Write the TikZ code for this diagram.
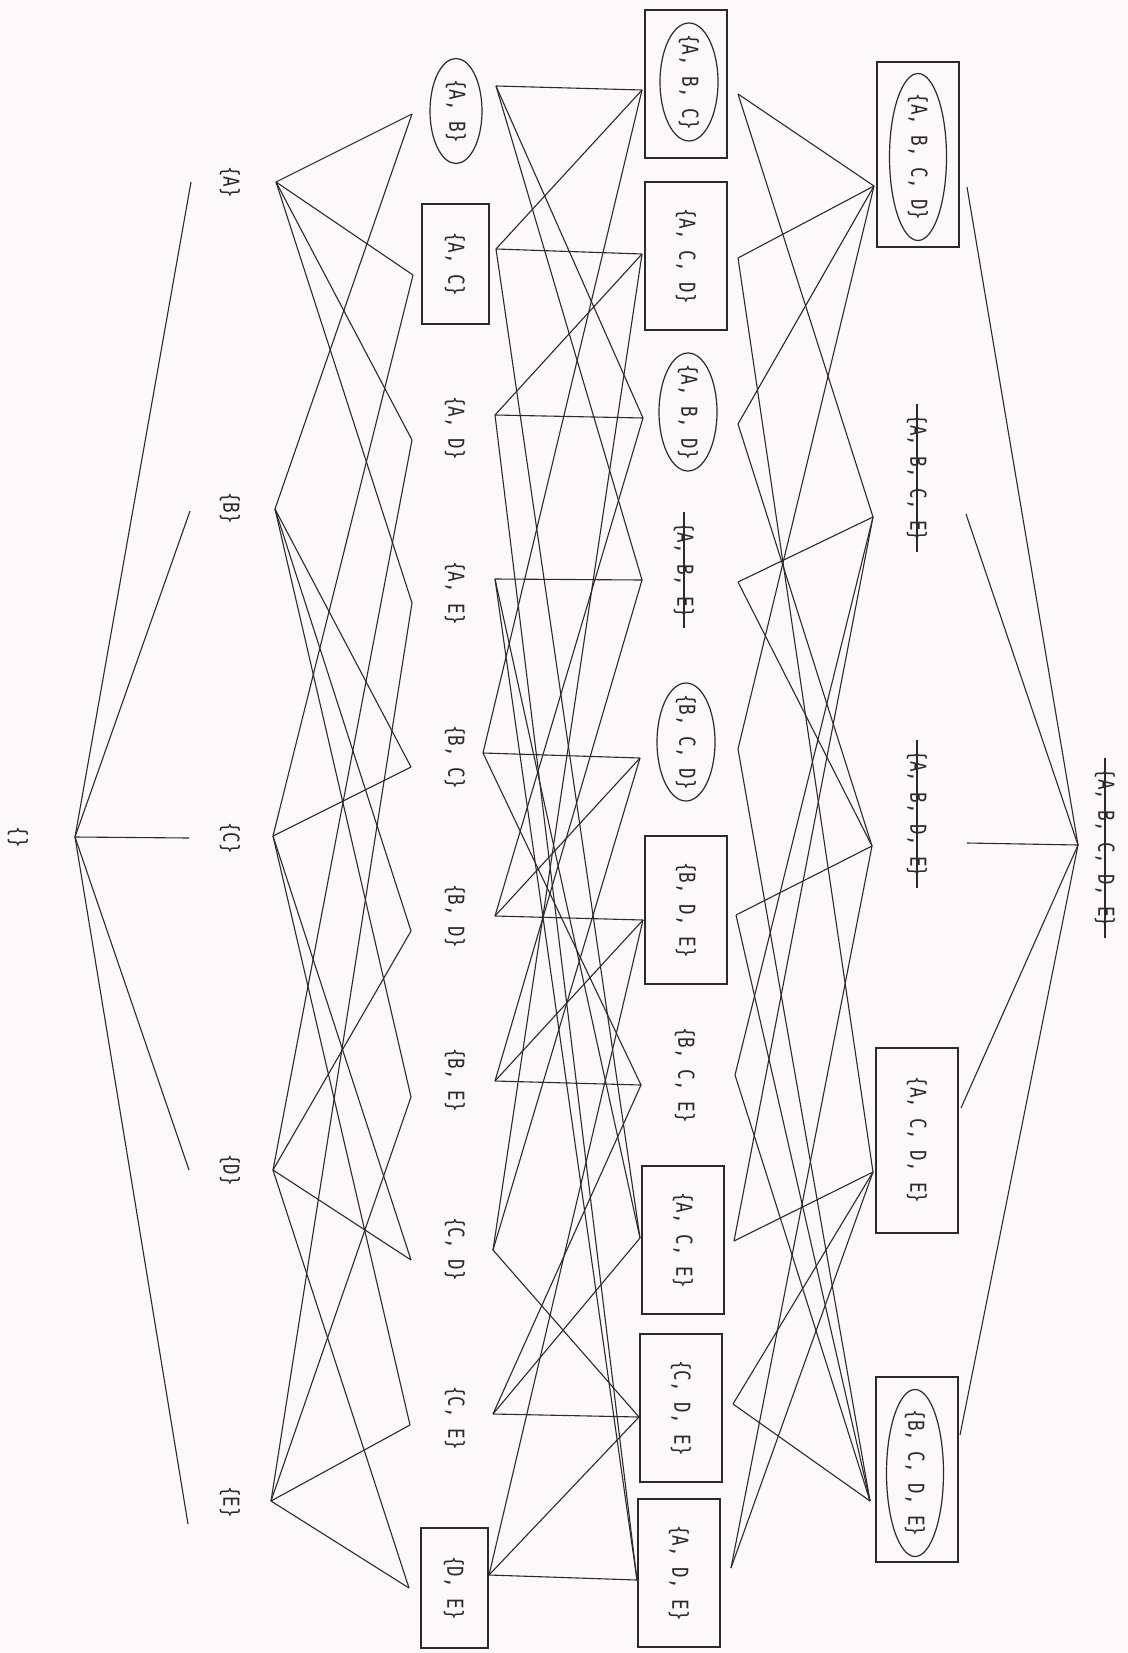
\documentclass[tikz,border=0pt]{standalone}
\usepackage{fontspec}
\newfontfamily\plotfont[FakeStretch=0.8]{DejaVu Sans Mono}
\usepackage{tikz}
\usetikzlibrary{shapes,positioning}

\definecolor{paper}{RGB}{251,249,250}
\definecolor{ink}{RGB}{48,40,44}

\begin{document}
\begin{tikzpicture}[
    x=0.5pt, y=-0.5pt,
    set/.style={rotate=-90, inner sep=0pt, text=ink, font=\plotfont\fontsize{11}{13}\selectfont},
    box2/.style={set, draw=ink, line width=1pt, rectangle, minimum width=60pt, minimum height=33.5pt},
    box3/.style={box2, minimum width=74pt, minimum height=41pt},
    box4/.style={box2, minimum width=92.5pt, minimum height=41pt},
    oval2/.style={set, draw=ink, line width=0.6pt, ellipse, inner xsep=-3pt, minimum width=52.5pt, minimum height=26pt},
    oval3/.style={oval2, minimum width=59pt, minimum height=29pt},
    oval4/.style={oval2, minimum width=83.5pt, minimum height=28.5pt},
    struck/.style={draw=ink, line width=0.6pt, shorten <=-5pt, shorten >=-5pt},
    edge/.style={draw=ink, line width=0.55pt}
]

\fill[paper] (0,0) rectangle (1128,1653);
\useasboundingbox (0,0) rectangle (1128,1653);

% level 0 and 1
\node[set] (e0) at (18,837) {\{\}};
\node[set] (A) at (230,182) {\{A\}};
\node[set] (B) at (230,508) {\{B\}};
\node[set] (C) at (230,838) {\{C\}};
\node[set] (D) at (230,1170) {\{D\}};
\node[set] (E) at (230,1502) {\{E\}};

% level 2
\node[oval2] (AB) at (456,111) {\{A, B\}};
\node[box2] (AC) at (455,264) {\{A, C\}};
\node[set] (AD) at (455,428) {\{A, D\}};
\node[set] (AE) at (455,593) {\{A, E\}};
\node[set] (BC) at (455,757) {\{B, C\}};
\node[set] (BD) at (455,916) {\{B, D\}};
\node[set] (BE) at (455,1080) {\{B, E\}};
\node[set] (CD) at (455,1249) {\{C, D\}};
\node[set] (CE) at (455,1418) {\{C, E\}};
\node[box2] (DE) at (454,1588) {\{D, E\}};

% level 3
\node[box3] (ABC-frame) at (686,84) {};
\node[oval3] (ABC) at (689,82) {\{A, B, C\}};
\node[box3] (ACD) at (686,256) {\{A, C, D\}};
\node[oval3] (ABD) at (688,412) {\{A, B, D\}};
\node[set] (ABE) at (684,570) {\{A, B, E\}};
\node[oval3] (BCD) at (686,742) {\{B, C, D\}};
\node[box3] (BDE) at (686,910) {\{B, D, E\}};
\node[set] (BCE) at (685,1075) {\{B, C, E\}};
\node[box3] (ACE) at (683,1240) {\{A, C, E\}};
\node[box3] (CDE) at (681,1408) {\{C, D, E\}};
\node[box3] (ADE) at (679,1573) {\{A, D, E\}};

% level 4 and 5
\node[box4] (ABCD-frame) at (918,155) {};
\node[oval4] (ABCD) at (918,157) {\{A, B, C, D\}};
\node[set] (ABCE) at (917,478) {\{A, B, C, E\}};
\node[set] (ABDE) at (917,814) {\{A, B, D, E\}};
\node[box4] (ACDE) at (917,1140) {\{A, C, D, E\}};
\node[box4] (BCDE-frame) at (917,1469) {};
\node[oval4] (BCDE) at (915,1473) {\{B, C, D, E\}};
\node[set] (ABCDE) at (1105,848) {\{A, B, C, D, E\}};

\draw[struck] (ABE.west) -- (ABE.east);
\draw[struck] (ABCE.west) -- (ABCE.east);
\draw[struck] (ABDE.west) -- (ABDE.east);
\draw[struck] (ABCDE.west) -- (ABCDE.east);

% ports
\coordinate (e0-out) at (75,837);
\coordinate (A-in) at (191,182);   \coordinate (A-out) at (276,182);
\coordinate (B-in) at (190,511);   \coordinate (B-out) at (275,509);
\coordinate (C-in) at (189,838);   \coordinate (C-out) at (273,836);
\coordinate (D-in) at (189,1170);  \coordinate (D-out) at (273,1170);
\coordinate (E-in) at (188,1524);  \coordinate (E-out) at (271,1501);
\coordinate (AB-in) at (412,114);  \coordinate (AB-out) at (496,86);
\coordinate (AC-in) at (413,275);  \coordinate (AC-out) at (496,249);
\coordinate (AD-in) at (412,440);  \coordinate (AD-out) at (495,415);
\coordinate (AE-in) at (412,603);  \coordinate (AE-out) at (495,579);
\coordinate (BC-in) at (411,767);  \coordinate (BC-out) at (483,753);
\coordinate (BD-in) at (411,931);  \coordinate (BD-out) at (495,916);
\coordinate (BE-in) at (411,1097); \coordinate (BE-out) at (495,1081);
\coordinate (CD-in) at (411,1260); \coordinate (CD-out) at (493,1250);
\coordinate (CE-in) at (410,1425); \coordinate (CE-out) at (493,1414);
\coordinate (DE-in) at (409,1588); \coordinate (DE-out) at (489,1575);
\coordinate (ABC-in) at (642,90);    \coordinate (ABC-out) at (738,94);
\coordinate (ACD-in) at (642,254);   \coordinate (ACD-out) at (738,258);
\coordinate (ABD-in) at (643,418);   \coordinate (ABD-out) at (738,424);
\coordinate (ABE-in) at (642,580);   \coordinate (ABE-out) at (738,582);
\coordinate (BCD-in) at (640,758);   \coordinate (BCD-out) at (738,749);
\coordinate (BDE-in) at (643,920);   \coordinate (BDE-out) at (736,915);
\coordinate (BCE-in) at (641,1085);  \coordinate (BCE-out) at (735,1075);
\coordinate (ACE-in) at (640,1238);  \coordinate (ACE-out) at (734,1241);
\coordinate (CDE-in) at (639,1417);  \coordinate (CDE-out) at (733,1404);
\coordinate (ADE-in) at (637,1580);  \coordinate (ADE-out) at (731,1568);
\coordinate (ABCD-in) at (874,186);  \coordinate (ABCD-out) at (967,187);
\coordinate (ABCE-in) at (873,517);  \coordinate (ABCE-out) at (966,514);
\coordinate (ABDE-in) at (872,846);  \coordinate (ABDE-out) at (967,843);
\coordinate (ACDE-in) at (873,1172); \coordinate (ACDE-out) at (961,1108);
\coordinate (BCDE-in) at (870,1501); \coordinate (BCDE-out) at (960,1435);
\coordinate (ABCDE-in) at (1078,845);

% lattice edges
\foreach \s in {A,B,C,D,E}
    \draw[edge] (e0-out) -- (\s-in);
\foreach \a/\b in {A/AB,A/AC,A/AD,A/AE, B/AB,B/BC,B/BD,B/BE, C/AC,C/BC,C/CD,C/CE,
                   D/AD,D/BD,D/CD,D/DE, E/AE,E/BE,E/CE,E/DE}
    \draw[edge] (\a-out) -- (\b-in);
\foreach \a/\b in {AB/ABC,AB/ABD,AB/ABE, AC/ABC,AC/ACD,AC/ACE, AD/ABD,AD/ACD,AD/ADE,
                   AE/ABE,AE/ACE,AE/ADE, BC/ABC,BC/BCD,BC/BCE, BD/ABD,BD/BCD,BD/BDE,
                   BE/ABE,BE/BCE,BE/BDE, CD/ACD,CD/BCD,CD/CDE, CE/ACE,CE/BCE,CE/CDE,
                   DE/ADE,DE/BDE,DE/CDE}
    \draw[edge] (\a-out) -- (\b-in);
\foreach \a/\b in {ABC/ABCD,ABC/ABCE, ABD/ABCD,ABD/ABDE, ABE/ABCE,ABE/ABDE,
                   ACD/ABCD,ACD/ACDE, ACE/ABCE,ACE/ACDE, ADE/ABDE,ADE/ACDE,
                   BCD/ABCD,BCD/BCDE, BCE/ABCE,BCE/BCDE, BDE/ABDE,BDE/BCDE,
                   CDE/ACDE,CDE/BCDE}
    \draw[edge] (\a-out) -- (\b-in);
\foreach \s in {ABCD,ABCE,ABDE,ACDE,BCDE}
    \draw[edge] (\s-out) -- (ABCDE-in);

\end{tikzpicture}
\end{document}
